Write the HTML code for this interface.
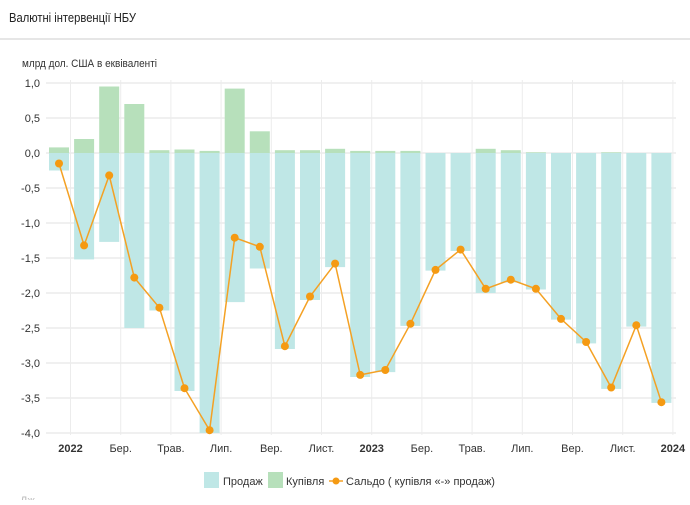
<!DOCTYPE html>
<html><head><meta charset="utf-8"><style>
body{margin:0;width:690px;height:500px;background:#fff;overflow:hidden;font-family:"Liberation Sans",sans-serif;}
</style></head><body>
<svg id="s" width="690" height="500" xmlns="http://www.w3.org/2000/svg" font-family="Liberation Sans, sans-serif"></svg>
<script>
const s=document.getElementById('s');let h='';
h+='<text x="9" y="22" font-size="13" fill="#222" textLength="127" lengthAdjust="spacingAndGlyphs">Валютні інтервенції НБУ</text>';
h+='<rect x="0" y="38" width="690" height="2" fill="#e6e6e6"/>';
h+='<text x="22" y="67" font-size="11" fill="#333" textLength="135" lengthAdjust="spacingAndGlyphs">млрд дол. США в еквіваленті</text>';
const Y=v=>153-70*v;
for(let v=1;v>=-4;v-=0.5){const y=Y(v);h+=`<line x1="46" x2="676" y1="${y}" y2="${y}" stroke="#ececec" stroke-width="1.5"/>`;
h+=`<text x="40" y="${y+4}" font-size="11" fill="#333" text-anchor="end">${v.toFixed(1).replace('.',',')}</text>`;}
const labs=['2022','Бер.','Трав.','Лип.','Вер.','Лист.','2023','Бер.','Трав.','Лип.','Вер.','Лист.','2024'];
labs.forEach((l,k)=>{const x=70.5+50.2*k;h+=`<line x1="${x}" x2="${x}" y1="80" y2="435" stroke="#ececec"/>`;
const b=/^\d/.test(l);h+=`<text x="${x}" y="452" font-size="11" fill="#333" text-anchor="middle" ${b?'font-weight="bold"':''}>${l}</text>`;});
const sell=[-0.25,-1.52,-1.27,-2.5,-2.25,-3.4,-4.0,-2.13,-1.65,-2.8,-2.1,-1.63,-3.2,-3.13,-2.47,-1.68,-1.4,-2.0,-1.85,-1.95,-2.38,-2.72,-3.37,-2.48,-3.57];
const buy=[0.08,0.2,0.95,0.7,0.04,0.05,0.03,0.92,0.31,0.04,0.04,0.06,0.03,0.03,0.03,0,0,0.06,0.04,0.01,0,0,0.01,0,0];
const sal=[-0.15,-1.32,-0.32,-1.78,-2.21,-3.36,-3.96,-1.21,-1.34,-2.76,-2.05,-1.58,-3.17,-3.1,-2.44,-1.67,-1.38,-1.94,-1.81,-1.94,-2.37,-2.7,-3.35,-2.46,-3.56];
const X=i=>59+25.1*i;
let pts=[];
sell.forEach((v,i)=>{const x=X(i)-10;h+=`<rect x="${x}" y="153" width="20" height="${-v*70}" fill="#bfe7e6"/>`;
if(buy[i]>0)h+=`<rect x="${x}" y="${Y(buy[i])}" width="20" height="${buy[i]*70}" fill="#b7e0bb"/>`;pts.push(X(i)+','+Y(sal[i]));});
h+=`<polyline points="${pts.join(' ')}" fill="none" stroke="#f4a124" stroke-width="1.5"/>`;
sal.forEach((v,i)=>h+=`<circle cx="${X(i)}" cy="${Y(v)}" r="4" fill="#f59a12"/>`);
h+='<rect x="204" y="472" width="15" height="16" fill="#bfe7e6"/><text x="223" y="485" font-size="11" fill="#333">Продаж</text>';
h+='<rect x="268" y="472" width="15" height="16" fill="#b7e0bb"/><text x="286" y="485" font-size="11" fill="#333">Купівля</text>';
h+='<line x1="329" x2="343" y1="481" y2="481" stroke="#f4a124" stroke-width="1.5"/><circle cx="336" cy="481" r="3.5" fill="#f59a12"/><text x="346" y="485" font-size="11" fill="#333">Сальдо ( купівля «-» продаж)</text>';
h+='<text x="20" y="504" font-size="11" fill="#bbb">Дж</text>';
s.innerHTML=h;
</script>
</body></html>
